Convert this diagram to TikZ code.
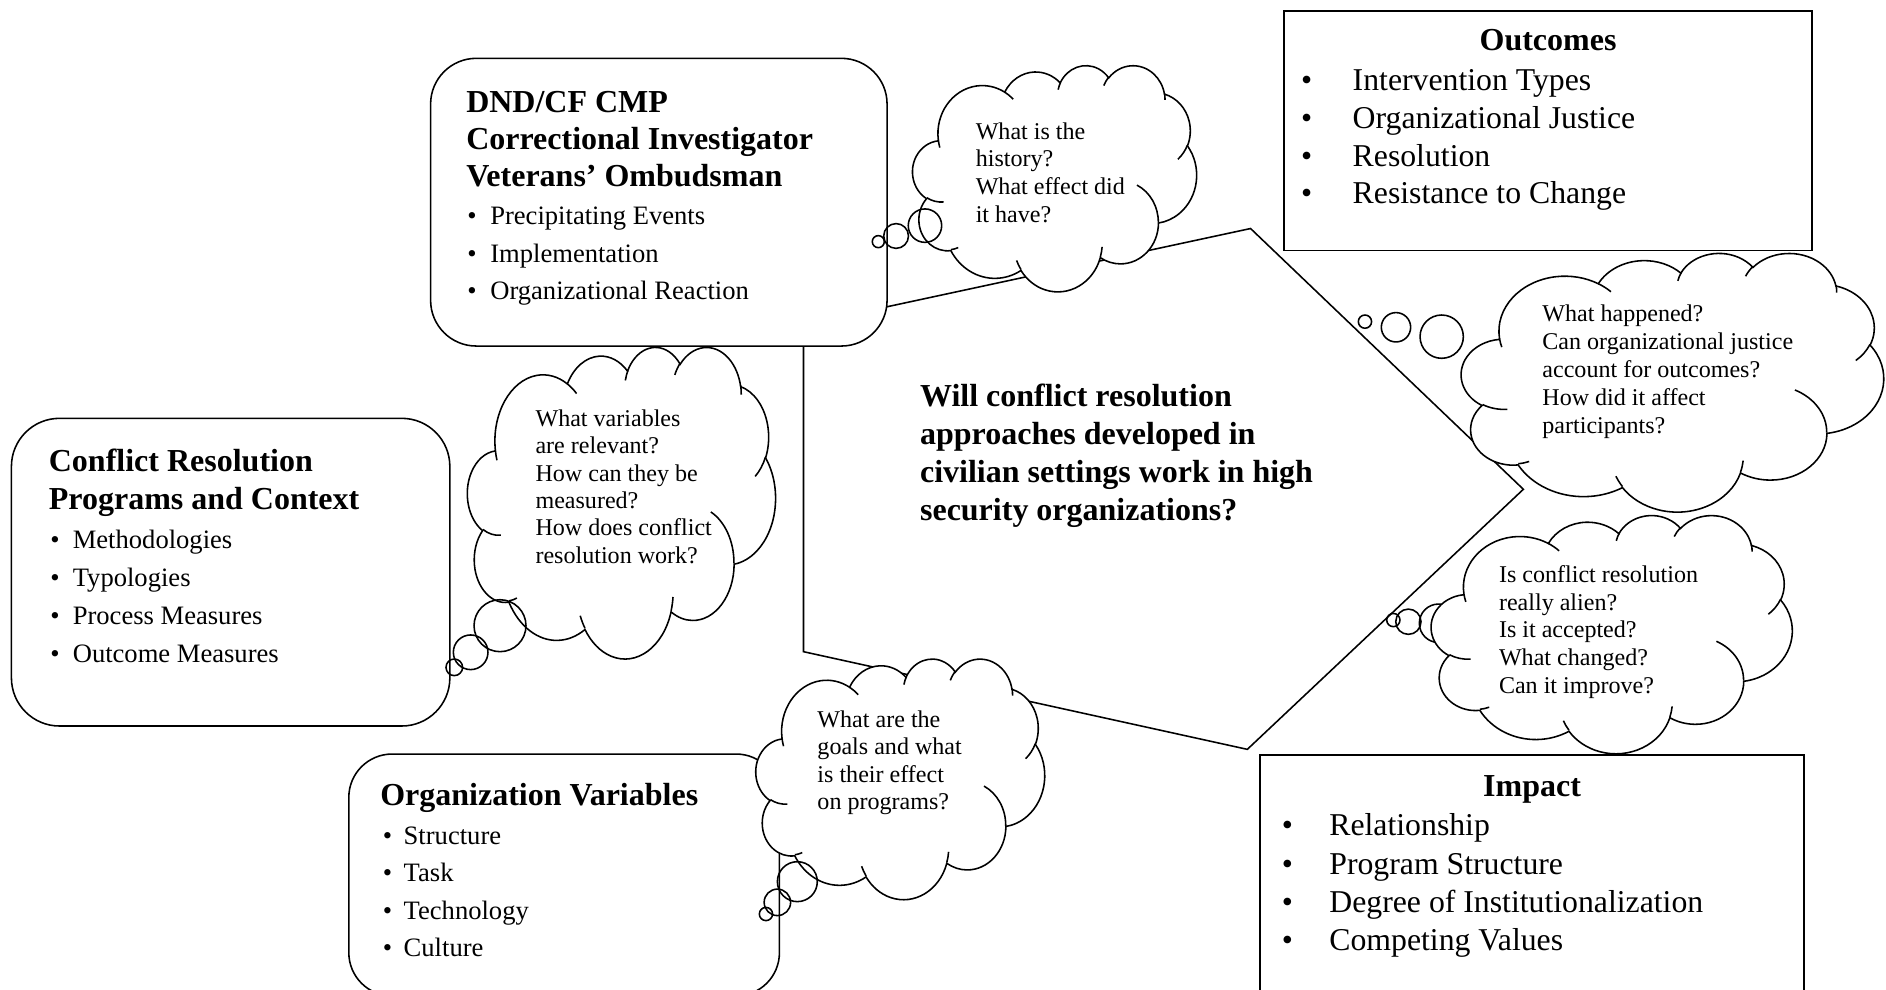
\documentclass[tikz,border=0pt]{standalone}
\usepackage{fontspec}
\setmainfont{Liberation Serif}
\makeatletter
\newcommand\cloudmain{}
\newcommand\cloudinner{}
\newcommand\addarc[5]{%
  \pgfmathsetmacro\cl@s{atan2(#2*sin(#4),#3*cos(#4))}%
  \pgfmathsetmacro\cl@e{atan2(#2*sin(#4+#5),#3*cos(#4+#5))}%
  \pgfmathsetmacro\cl@d{\cl@e-\cl@s}%
  \pgfmathsetmacro\cl@d{ifthenelse(\cl@d<0,\cl@d+360,\cl@d)}%
  \xdef#1{#1 arc[start angle=\cl@s, delta angle=\cl@d, x radius=#2, y radius=#3]}%
}
\newcommand\addmove[3]{\xdef#1{#1 (#2,#3)}}
\makeatother
\addarc\cloudmain{67.53}{91.90}{-190.4875}{123.7805}
\addarc\cloudmain{53.33}{72.67}{-144.1024}{89.9452}
\addarc\cloudmain{43.65}{59.45}{-145.8079}{99.7230}
\addarc\cloudmain{48.57}{65.95}{-130.9861}{117.2417}
\addarc\cloudmain{53.33}{72.73}{-78.7089}{109.0269}
\addarc\cloudmain{67.75}{92.20}{-46.2673}{130.2690}
\addarc\cloudmain{57.85}{78.67}{0.6250}{114.0333}
\addarc\cloudmain{67.52}{92.15}{22.4516}{115.1726}
\addarc\cloudmain{77.20}{105.43}{66.2426}{75.7110}
\addarc\cloudmain{43.60}{59.18}{-274.9421}{146.7356}
\addarc\cloudmain{43.45}{59.45}{-246.8285}{152.5234}
\addmove\cloudinner{46.93}{261.77}\addarc\cloudinner{43.45}{59.45}{86.7420}{26.4295}
\addmove\cloudinner{69.28}{348.99}\addarc\cloudinner{43.60}{59.18}{73.6105}{11.4475}
\addmove\cloudinner{164.78}{390.90}\addarc\cloudinner{67.52}{92.15}{137.6242}{14.0811}
\addmove\cloudinner{288.27}{347.51}\addarc\cloudinner{67.52}{92.15}{6.4533}{15.9984}
\addmove\cloudinner{341.29}{229.54}\addarc\cloudinner{57.85}{78.67}{-70.2924}{70.9174}
\addmove\cloudinner{417.98}{153.54}\addarc\cloudinner{53.33}{72.73}{30.3180}{27.7515}
\addmove\cloudinner{383.24}{54.26}\addarc\cloudinner{48.57}{65.95}{-13.7443}{14.8589}
\addmove\cloudinner{290.78}{39.52}\addarc\cloudinner{48.57}{65.95}{-149.1815}{18.1954}
\addmove\cloudinner{221.41}{47.20}\addarc\cloudinner{43.65}{59.45}{-163.4943}{17.6864}
\addmove\cloudinner{140.00}{51.92}\addarc\cloudinner{67.53}{91.90}{-66.7070}{12.3194}
\addmove\cloudinner{41.27}{157.89}\addarc\cloudinner{67.53}{91.90}{157.6544}{11.8582}
\newcommand\drawcloud[4]{%
  \pgfmathsetmacro\cux{#3*0.5/432}%
  \pgfmathsetmacro\cuy{#4*0.5/432}%
  \begin{scope}[shift={(#1,#2)}, x=\cux pt, y=-\cuy pt]
    \draw[fill=white] (39,143.7) \cloudmain -- cycle;
    \draw \cloudinner;
  \end{scope}}
\newcommand\bi[2][9.3pt]{\makebox[#1][l]{\textbullet}#2}
\newcommand\bb[2][21pt]{\makebox[#1][l]{\textbullet}#2}
\begin{document}
\begin{tikzpicture}[x=0.5pt,y=-0.5pt,line width=0.65pt,
  box/.style={draw, fill=white, inner sep=0pt},
  ttl/.style={font=\fontsize{13.3}{15.5}\selectfont\bfseries, align=left, inner sep=0pt, anchor=base west},
  lst/.style={font=\fontsize{11.05}{15.6}\selectfont, align=left, inner sep=0pt, anchor=base west},
  biglst/.style={font=\fontsize{13.2}{15.8}\selectfont, align=left, inner sep=0pt, anchor=base west},
  cld/.style={font=\fontsize{10}{11.5}\selectfont, align=left, inner sep=0pt, anchor=base west},
  bub/.style={draw}]
\useasboundingbox (0,0) rectangle (1568,823);
% central hexagon
\coordinate (h1) at (668,270);
\coordinate (h2) at (1039.7,190);
\coordinate (h3) at (1266.5,406.8);
\coordinate (h4) at (1037,623);
\coordinate (h5) at (668,541.8);
\draw (h1) -- (h2) -- (h3) -- (h4) -- (h5) -- cycle;
% boxes
\node[box, rounded corners=19pt, minimum width=189.75pt, minimum height=119.6pt] (dnd) at (547.75,168.1) {};
\node[box, rounded corners=20pt, minimum width=182.25pt, minimum height=127.9pt] (crp) at (191.75,475.7) {};
\node[box, rounded corners=18pt, minimum width=179pt, minimum height=100.55pt] (org) at (469,727.45) {};
\node[box, minimum width=219.5pt, minimum height=99.7pt] (out) at (1287,108.7) {};
\node[box, minimum width=226.3pt, minimum height=101.15pt] (imp) at (1273.7,728.85) {};
% clouds
\drawcloud{758.8}{54}{236}{188}
\drawcloud{1215}{210}{351}{215}
\drawcloud{388.7}{288}{256}{259}
\drawcloud{628.5}{547.3}{240}{200}
\draw[bub] (1196,518.2) circle[radius=16];
\drawcloud{1190}{428}{300}{198}
% bubbles
\draw[bub] (769,187.6) circle[radius=13.9];
\draw[bub] (745,196.2) circle[radius=10.3];
\draw[bub] (730.2,200.9) circle[radius=5];
\draw[bub] (1198.6,279.9) circle[radius=18];
\draw[bub] (1160.6,272.1) circle[radius=12.2];
\draw[bub] (1134.8,267.4) circle[radius=5.5];
\draw[bub] (415.7,520.2) circle[radius=21.6];
\draw[bub] (391.3,542.3) circle[radius=14.4];
\draw[bub] (377.7,554.8) circle[radius=6.9];
\draw[bub] (662.9,733) circle[radius=16.6];
\draw[bub] (646.3,750.2) circle[radius=11];
\draw[bub] (636.8,759.9) circle[radius=5.5];
\draw[bub] (1170.9,516.9) circle[radius=10.5];
\draw[bub] (1158.4,515.5) circle[radius=5.5];
% texts (anchor = baseline of last line)
\node[ttl, font=\fontsize{13.3}{15.4}\selectfont\bfseries] (dndt) at (387,155.3) {DND/CF CMP\\Correctional Investigator\\Veterans’ Ombudsman};
\node[lst] (dndl) at (388,249.4) {\bi[9.5pt]{Precipitating Events}\\\bi[9.5pt]{Implementation}\\\bi[9.5pt]{Organizational Reaction}};
\node[ttl, font=\fontsize{13.3}{15.6}\selectfont\bfseries] (crpt) at (40,423.2) {Conflict Resolution\\Programs and Context};
\node[lst, font=\fontsize{11.05}{15.85}\selectfont] (crpl) at (41.3,551) {\bi{Methodologies}\\\bi{Typologies}\\\bi{Process Measures}\\\bi{Outcome Measures}};
\node[ttl] (orgt) at (315.5,669.3) {Organization Variables};
\node[lst, font=\fontsize{11.05}{15.55}\selectfont] (orgl) at (317.6,795.4) {\bi[8.7pt]{Structure}\\\bi[8.7pt]{Task}\\\bi[8.7pt]{Technology}\\\bi[8.7pt]{Culture}};
\node[ttl, anchor=base] (outt) at (1287,42) {Outcomes};
\node[biglst, font=\fontsize{13.2}{15.7}\selectfont] (outl) at (1081,169.5) {\bb[21.5pt]{Intervention Types}\\\bb[21.5pt]{Organizational Justice}\\\bb[21.5pt]{Resolution}\\\bb[21.5pt]{Resistance to Change}};
\node[ttl, anchor=base] (impt) at (1273.7,662) {Impact};
\node[biglst, font=\fontsize{13.2}{15.95}\selectfont] (impl) at (1065,790.5) {\bb[19.8pt]{Relationship}\\\bb[19.8pt]{Program Structure}\\\bb[19.8pt]{Degree of Institutionalization}\\\bb[19.8pt]{Competing Values}};
\node[ttl, font=\fontsize{13.3}{15.8}\selectfont\bfseries] (q) at (764.3,432.8) {Will conflict resolution\\approaches developed in\\civilian settings work in high\\security organizations?};
\node[cld, font=\fontsize{10}{11.55}\selectfont] (c1t) at (810.6,184.9) {What is the\\history?\\What effect did\\it have?};
\node[cld, font=\fontsize{10}{11.6}\selectfont] (c2t) at (1281.7,360.2) {What happened?\\Can organizational justice\\account for outcomes?\\How did it affect\\participants?};
\node[cld, font=\fontsize{10}{11.35}\selectfont] (c3t) at (444.6,468.2) {What variables\\are relevant?\\How can they be\\measured?\\How does conflict\\resolution work?};
\node[cld, font=\fontsize{10}{11.45}\selectfont] (c4t) at (679,673.2) {What are the\\goals and what\\is their effect\\on programs?};
\node[cld] (c5t) at (1245.6,576.4) {Is conflict resolution\\really alien?\\Is it accepted?\\What changed?\\Can it improve?};
\end{tikzpicture}
\end{document}
